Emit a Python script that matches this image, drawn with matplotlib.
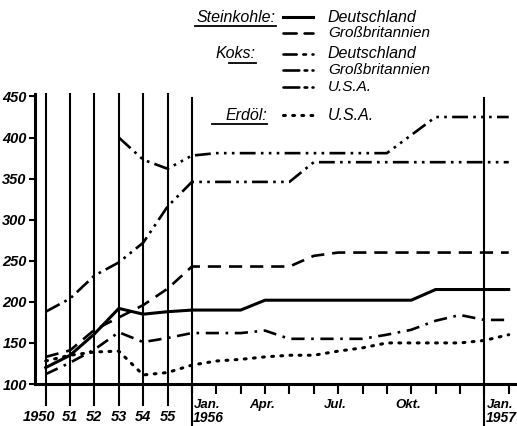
import numpy as np
import matplotlib.pyplot as plt
from matplotlib.lines import Line2D

# Zeitachse: 1950-1955 jaehrlich, dann monatlich Jan. 1956 - Feb. 1957
zeitpunkte = ['1950', '1951', '1952', '1953', '1954', '1955',
              '1956-01', '1956-02', '1956-03', '1956-04', '1956-05', '1956-06',
              '1956-07', '1956-08', '1956-09', '1956-10', '1956-11', '1956-12',
              '1957-01', '1957-02']
jahr_labels = ['1950', '51', '52', '53', '54', '55']
monat_labels = {9: 'Apr.', 12: 'Jul.', 15: 'Okt.'}
jan_labels = {6: '1956', 18: '1957'}

steinkohle_de = [120, 135, 161, 192, 185, 188, 190, 190, 190, 202, 202, 202,
                 202, 202, 202, 202, 215, 215, 215, 215]
steinkohle_gb = [133, 141, 166, 181, 196, 216, 243, 243, 243, 243, 243, 256,
                 260, 260, 260, 260, 260, 260, 260, 260]
koks_de = [112, 126, 142, 163, 151, 156, 162, 162, 162, 165, 155, 155,
           155, 155, 160, 166, 177, 184, 178, 178]
koks_gb = [188, 204, 232, 248, 272, 316, 346, 346, 346, 346, 346, 370,
           370, 370, 370, 370, 370, 370, 370, 370]
koks_usa = [np.nan, np.nan, np.nan, 400, 373, 362, 378, 381, 381, 381, 381, 381,
            381, 381, 381, 403, 425, 425, 425, 425]
erdoel_usa = [128, 135, 139, 140, 111, 114, 123, 128, 130, 133, 135, 135,
              140, 144, 150, 150, 150, 150, 153, 160]

x = np.arange(len(zeitpunkte))

plt.rcParams['font.family'] = ['Liberation Sans', 'DejaVu Sans']
plt.rcParams['font.style'] = 'italic'

W, H = 517, 426
fig = plt.figure(figsize=(W / 100, H / 100), dpi=100)
ax = fig.add_axes([35 / W, 42 / H, 482 / W, 290 / H])
ax.set_xlim(-0.44, 19.34)
ax.set_ylim(100, 453)

lw = 1.9
ax.plot(x, steinkohle_de, color='black', lw=2.2, solid_joinstyle='round')
ax.plot(x, steinkohle_gb, color='black', lw=lw, linestyle=(0, (5, 3)))
ax.plot(x, koks_de, color='black', lw=lw, linestyle=(0, (5, 2.5, 1, 2.5)))
ax.plot(x, koks_gb, color='black', lw=lw, linestyle=(0, (6, 2, 1, 2, 1, 2)))
ax.plot(x, koks_usa, color='black', lw=lw,
        linestyle=(0, (6, 2, 1, 2, 1, 2, 1, 2)))
ax.plot(x, erdoel_usa, color='black', lw=2.2, linestyle=(0, (0.6, 2.4)),
        dash_capstyle='round')

# senkrechte Linien
for i in range(6):
    ax.axvline(i, ymin=-0.072, ymax=1, color='black', lw=1.5, clip_on=False)
for i in jan_labels:
    ax.axvline(i, ymin=-0.145, ymax=0.985, color='black', lw=1.5, clip_on=False)

for s in ['top', 'right']:
    ax.spines[s].set_visible(False)
ax.spines['left'].set_linewidth(2.2)
ax.spines['bottom'].set_linewidth(2.2)

ax.set_yticks(range(100, 451, 50))
ax.tick_params(axis='y', direction='out', length=4, width=1.5, labelsize=10.5,
               pad=2)
for t in ax.get_yticklabels():
    t.set_fontweight('bold')
ax.set_xticks(x[6:])
ax.set_xticklabels([])
ax.tick_params(axis='x', direction='out', length=7, width=1.5)

# x-Beschriftung
for i, lab in enumerate(jahr_labels):
    dx = -7 if i == 0 else 0
    ax.annotate(lab, xy=(i, 0), xycoords=('data', 'axes fraction'),
                xytext=(dx, -33), textcoords='offset pixels',
                ha='center', va='center', fontsize=10.5, fontweight='bold')
for i, lab in monat_labels.items():
    ax.annotate(lab, xy=(i, 0), xycoords=('data', 'axes fraction'),
                xytext=(-3, -21), textcoords='offset pixels',
                ha='center', va='center', fontsize=9.5, fontweight='bold')
for i, lab in jan_labels.items():
    ax.annotate('Jan.', xy=(i, 0), xycoords=('data', 'axes fraction'),
                xytext=(2, -21), textcoords='offset pixels',
                ha='left', va='center', fontsize=9.5, fontweight='bold')
    ax.annotate(lab, xy=(i, 0), xycoords=('data', 'axes fraction'),
                xytext=(1, -34), textcoords='offset pixels',
                ha='left', va='center', fontsize=10, fontweight='bold')

# Legende
def fx(px):
    return px / W

def fy(py):
    return 1 - py / H

gruppen = [('Steinkohle:', 276, 17, 195),
           ('Koks:', 256, 54, 229),
           ('Erdöl:', 267, 115, 212)]
for txt, xr, yc, xl in gruppen:
    fig.text(fx(xr), fy(yc), txt, ha='right', va='center', fontsize=11.5)
    fig.add_artist(Line2D([fx(xl), fx(xr)], [fy(yc + 9), fy(yc + 9)],
                          color='black', lw=1.3))

eintraege = [('Deutschland', 17, '-', 2.2, 11.5),
             ('Großbritannien', 33, (0, (5, 3)), lw, 11),
             ('Deutschland', 54, (0, (5, 2.5, 1, 2.5)), lw, 11.5),
             ('Großbritannien', 70, (0, (6, 2, 1, 2, 1, 2)), lw, 11),
             ('U.S.A.', 87, (0, (6, 2, 1, 2, 1, 2, 1, 2)), lw, 11),
             ('U.S.A.', 115, (0, (0.6, 2.4)), 2.2, 11.5)]
for txt, yc, ls, w, fs in eintraege:
    fig.add_artist(Line2D([fx(283), fx(313)], [fy(yc), fy(yc)], color='black',
                          lw=w, linestyle=ls, dash_capstyle='round'))
    fig.text(fx(328), fy(yc), txt, ha='left', va='center', fontsize=fs)

fig.savefig('out.png', dpi=100)
